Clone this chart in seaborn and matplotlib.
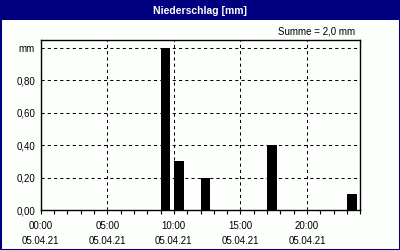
import matplotlib
matplotlib.use("Agg")
import matplotlib.pyplot as plt
from matplotlib.patches import Rectangle
from matplotlib.ticker import FixedLocator, FuncFormatter
import seaborn as sns
import pandas as pd

# ---- data ----
hours = list(range(24))
precip = [0.0, 0.0, 0.0, 0.0, 0.0, 0.0, 0.0, 0.0, 0.0,
          1.0, 0.3, 0.0, 0.2, 0.0, 0.0, 0.0, 0.0, 0.4,
          0.0, 0.0, 0.0, 0.0, 0.0, 0.1]
major_hours = [0, 5, 10, 15, 20]
time_labels = ["00:00", "05:00", "10:00", "15:00", "20:00"]
date_label = "05.04.21"
y_ticks = [0.0, 0.2, 0.4, 0.6, 0.8, 1.0]
title = "Niederschlag [mm]"
summe = "Summe = 2,0 mm"

sns.set_theme(style="white")
plt.rcParams["font.family"] = ["Liberation Sans", "DejaVu Sans"]

NAVY = "#000080"
BG = "#FCFFFC"

fig = plt.figure(figsize=(4, 2.5), dpi=100, facecolor=BG)
ax = fig.add_axes([40.7 / 400, 40 / 250, 319.6 / 400, 170 / 250])
ax.set_facecolor(BG)

df = pd.DataFrame({"hour": hours, "mm": precip})
sns.barplot(data=df, x="hour", y="mm", native_scale=True, width=0.73,
            color="black", saturation=1, linewidth=0, edgecolor="black",
            ax=ax, zorder=3)
# align bars to the start of each hourly interval
for p in ax.patches:
    p.set_x(p.get_x() + p.get_width() / 2)
    p.set_facecolor("black")

ax.set_xlim(0, 24)
ax.set_ylim(0, 1.05)
ax.set_xlabel("")
ax.set_ylabel("")

# ticks
ax.xaxis.set_major_locator(FixedLocator(major_hours))
ax.set_xticklabels([f"{t}\n{date_label}" for t in time_labels])
ax.xaxis.set_minor_locator(FixedLocator([h for h in range(1, 25) if h not in major_hours]))
ax.set_yticks(y_ticks)
ax.yaxis.set_major_formatter(FuncFormatter(
    lambda v, pos: "mm" if abs(v - 1.0) < 1e-9 else f"{v:.2f}".replace(".", ",")))

ax.tick_params(axis="x", which="both", direction="out", length=3, width=0.8,
               color="black", bottom=True, labelsize=7, pad=5, labelcolor="black")
ax.tick_params(axis="y", which="both", length=0, labelsize=7, pad=4, labelcolor="black")
for lab in ax.get_xticklabels():
    lab.set_linespacing(1.55)

ax.grid(True, axis="both", which="major", color="black", linewidth=0.75,
        linestyle=(0, (3, 3)), zorder=1)
ax.set_axisbelow(True)

for s in ax.spines.values():
    s.set_visible(True)
    s.set_color("black")
    s.set_linewidth(1.0)

# title bar and frame
fig.patches.append(Rectangle((0, 230 / 250), 1, 20 / 250, transform=fig.transFigure,
                             facecolor=NAVY, edgecolor="none", zorder=0))
fig.patches.append(Rectangle((0, 0), 1, 1, transform=fig.transFigure,
                             facecolor="none", edgecolor=NAVY, linewidth=2.2, zorder=5))
fig.text(0.5, 1 - 10.5 / 250, title, color="white", fontsize=7.5, fontweight="bold",
         ha="center", va="center")
fig.text(355 / 400, 1 - 31 / 250, summe, color="black", fontsize=7,
         ha="right", va="center")

fig.savefig("out.png", dpi=100, facecolor=BG)
